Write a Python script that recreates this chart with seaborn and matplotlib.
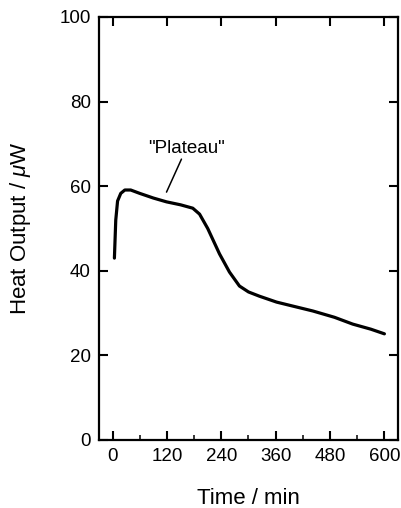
import matplotlib
matplotlib.use("Agg")
import matplotlib.pyplot as plt
import seaborn as sns
import pandas as pd
from matplotlib.ticker import MultipleLocator

# values
time_min = [4, 7, 11, 18, 27, 40, 60, 90, 119, 150, 177, 192, 210, 236, 258, 280, 300, 324, 362, 400, 442, 490, 530, 570, 600]
heat_uw = [43, 52, 56.5, 58.3, 59.1, 59.1, 58.3, 57.2, 56.3, 55.6, 54.8, 53.4, 50, 44, 39.7, 36.4, 35.0, 34.0, 32.6, 31.6, 30.5, 29.0, 27.4, 26.2, 25.1]

x_ticks = [0, 120, 240, 360, 480, 600]
y_ticks = [0, 20, 40, 60, 80, 100]

sns.set_theme(style="ticks")
plt.rcParams["font.family"] = ["Liberation Sans", "DejaVu Sans"]
plt.rcParams["mathtext.fontset"] = "custom"
plt.rcParams["mathtext.it"] = "Liberation Sans:italic"
plt.rcParams["text.color"] = "black"
plt.rcParams["axes.labelcolor"] = "black"

df = pd.DataFrame({"time": time_min, "heat": heat_uw})

fig = plt.figure(figsize=(4.02, 5.08), dpi=100)
ax = fig.add_axes([99 / 402, 1 - 440 / 508, 299 / 402, 423 / 508])

sns.lineplot(data=df, x="time", y="heat", color="black", linewidth=2.3, ax=ax)

ax.set_xlim(-30, 630)
ax.set_ylim(0, 100)
ax.set_xticks(x_ticks)
ax.set_yticks(y_ticks)
ax.xaxis.set_minor_locator(MultipleLocator(60))

for side in ["top", "right", "left", "bottom"]:
    ax.spines[side].set_visible(True)
    ax.spines[side].set_linewidth(1.6)
    ax.spines[side].set_color("black")

ax.tick_params(which="major", direction="in", length=6.5, width=1.5,
               top=True, right=True, labelsize=13.5, colors="black", pad=6)
ax.tick_params(axis="x", which="minor", direction="in", length=3.5, width=1.3,
               top=False, bottom=True)
ax.tick_params(axis="y", which="minor", left=False, right=False)

ax.set_xlabel("Time / min", fontsize=16, labelpad=16)
ax.set_ylabel("Heat Output / $\\mu$W", fontsize=16, labelpad=19)

ax.annotate('"Plateau"', xy=(163, 69), ha="center", va="center", fontsize=13.5)
ax.annotate("", xy=(119, 58.6), xytext=(152, 66.4),
            arrowprops=dict(arrowstyle="-", color="black", lw=1.1,
                            shrinkA=0, shrinkB=0))

fig.savefig("out.png", dpi=100)
